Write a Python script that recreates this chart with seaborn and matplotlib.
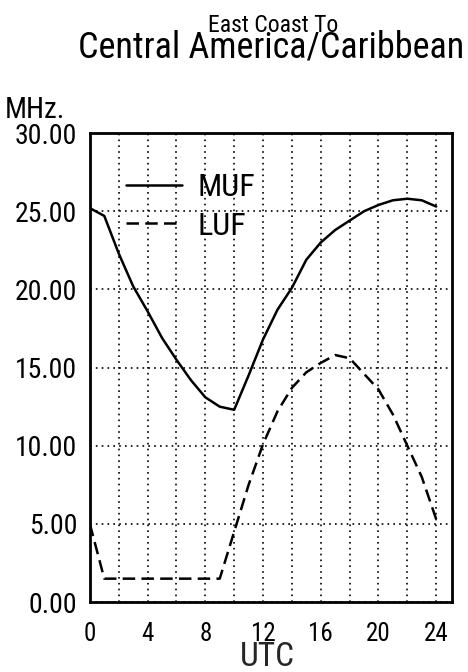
import pandas as pd
import matplotlib.pyplot as plt
from matplotlib.ticker import MultipleLocator, FormatStrFormatter
import seaborn as sns

# hourly propagation estimates
hours = list(range(25))
muf = [25.2, 24.7, 22.3, 20.2, 18.6, 16.9, 15.5, 14.2, 13.1, 12.5, 12.3,
       14.5, 16.8, 18.7, 20.1, 21.9, 23.0, 23.8, 24.4, 25.0, 25.4, 25.7,
       25.8, 25.7, 25.3]
luf = [5.0, 1.5, 1.5, 1.5, 1.5, 1.5, 1.5, 1.5, 1.5, 1.5, 4.5,
       7.5, 10.1, 12.2, 13.7, 14.7, 15.3, 15.8, 15.6, 14.6, 13.6, 12.0,
       10.0, 8.0, 5.3]

sns.set_style("white")
plt.rcParams["font.family"] = ["Roboto Condensed", "DejaVu Sans"]
plt.rcParams["font.stretch"] = "condensed"
plt.rcParams["text.color"] = "black"
plt.rcParams["xtick.color"] = "black"
plt.rcParams["ytick.color"] = "black"

df = pd.DataFrame({
    "UTC": hours + hours,
    "MHz": muf + luf,
    "curve": ["MUF"] * len(hours) + ["LUF"] * len(hours),
})

fig = plt.figure(figsize=(4.68, 6.72), dpi=100)
ax = fig.add_axes([0.192, 0.104, 0.774, 0.698])

sns.lineplot(data=df, x="UTC", y="MHz", style="curve",
             dashes={"MUF": "", "LUF": (5, 2.5)}, color="black",
             linewidth=1.8, ax=ax)

ax.set_xlim(0, 25.1)
ax.set_ylim(0, 30)
ax.xaxis.set_major_locator(MultipleLocator(4))
ax.xaxis.set_minor_locator(MultipleLocator(2))
ax.yaxis.set_major_locator(MultipleLocator(5))
ax.yaxis.set_major_formatter(FormatStrFormatter("%.2f"))
ax.grid(True, which="both", axis="x", color="black", linestyle=(0, (1, 2.5)), linewidth=1.2)
ax.grid(True, which="major", axis="y", color="black", linestyle=(0, (1, 2.5)), linewidth=1.2)
ax.tick_params(axis="both", which="both", length=0)
ax.tick_params(axis="y", labelsize=20, pad=9)
ax.tick_params(axis="x", labelsize=18, pad=14)
for s in ax.spines.values():
    s.set_color("black")
    s.set_linewidth(2)

ax.set_ylabel("")
ax.set_xlabel("UTC", fontsize=24)
ax.xaxis.set_label_coords(0.489, -0.082)

leg = ax.legend(loc="upper left", bbox_to_anchor=(0.1, 0.915), frameon=False,
                fontsize=23, handlelength=1.75, handletextpad=0.5,
                labelspacing=0.3, borderpad=0, borderaxespad=0)
for h in leg.get_lines():
    h.set_linewidth(1.8)

fig.text(0.583, 0.953, "East Coast To", ha="center", va="baseline", fontsize=17)
fig.text(0.579, 0.914, "Central America/Caribbean", ha="center", va="baseline", fontsize=26)
fig.text(0.011, 0.824, "MHz.", ha="left", va="baseline", fontsize=21)

fig.savefig("out.png", dpi=100, facecolor="white")
